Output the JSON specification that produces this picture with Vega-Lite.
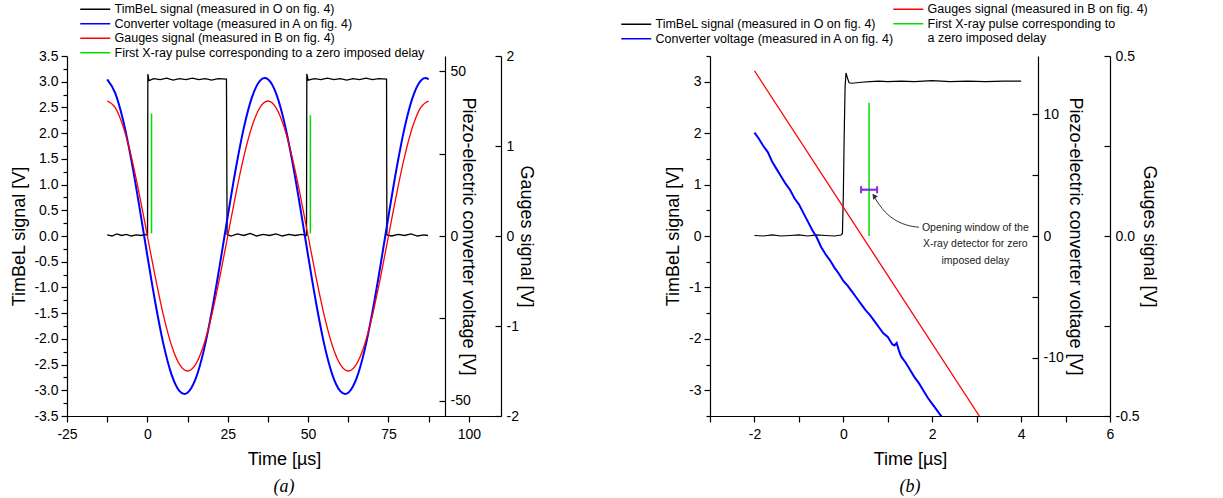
{
  "$schema": "https://vega.github.io/schema/vega-lite/v6.json",
  "padding": {"left": 10, "top": 3, "right": 10, "bottom": 0},
  "spacing": 95,
  "config": {
    "view": {"stroke": null},
    "font": "Liberation Sans",
    "locale": {"number": {"decimal": ".", "thousands": ",", "grouping": [3], "currency": ["", ""], "minus": "-"}},
    "axis": {"grid": false, "domainColor": "#000", "tickColor": "#000", "labelColor": "#000", "titleColor": "#000", "labelFont": "Liberation Sans", "titleFont": "Liberation Sans", "labelFontSize": 14, "titleFontSize": 18, "titleFontWeight": "normal", "tickSize": 6, "labelPadding": 3, "domainWidth": 1.2, "tickWidth": 1.2, "labelFlush": false, "labelOverlap": false, "labelBound": false},
    "legend": {"labelFont": "Liberation Sans", "labelColor": "#000", "labelFontSize": 12.5, "labelLimit": 0, "symbolType": "M-3,0H3", "symbolSize": 100, "symbolStrokeWidth": 1.5, "labelOffset": 13, "rowPadding": 1.5, "padding": 0, "titlePadding": 0}
  },
  "resolve": {"scale": {"color": "independent", "stroke": "independent"}, "legend": {"color": "independent", "stroke": "independent"}},
  "datasets": {
    "timbelA": [
      {"t": -12.5, "v": 0.02}, {"t": -11, "v": 0.0}, {"t": -9.5, "v": 0.04}, {"t": -8, "v": 0.01}, {"t": -6.5, "v": 0.03}, {"t": -5, "v": 0.0}, {"t": -3.5, "v": 0.02}, {"t": -2, "v": 0.01}, {"t": -0.5, "v": 0.03}, {"t": 0.05, "v": 0.01},
      {"t": 0.15, "v": 3.15}, {"t": 0.5, "v": 3.02}, {"t": 2, "v": 3.06}, {"t": 4, "v": 3.04}, {"t": 6, "v": 3.07}, {"t": 8, "v": 3.03}, {"t": 10, "v": 3.06}, {"t": 12, "v": 3.04}, {"t": 14, "v": 3.07}, {"t": 16, "v": 3.04}, {"t": 18, "v": 3.06}, {"t": 20, "v": 3.03}, {"t": 22, "v": 3.06}, {"t": 24.6, "v": 3.05},
      {"t": 24.8, "v": 0.03}, {"t": 26, "v": 0.0}, {"t": 28, "v": 0.04}, {"t": 30, "v": 0.01}, {"t": 32, "v": 0.05}, {"t": 34, "v": 0.0}, {"t": 36, "v": 0.03}, {"t": 38, "v": 0.01}, {"t": 40, "v": 0.04}, {"t": 42, "v": 0.0}, {"t": 44, "v": 0.03}, {"t": 46, "v": 0.01}, {"t": 48, "v": 0.03}, {"t": 49.5, "v": 0.01},
      {"t": 49.6, "v": 3.15}, {"t": 50, "v": 3.03}, {"t": 52, "v": 3.06}, {"t": 54, "v": 3.04}, {"t": 56, "v": 3.07}, {"t": 58, "v": 3.04}, {"t": 60, "v": 3.06}, {"t": 62, "v": 3.03}, {"t": 64, "v": 3.06}, {"t": 66, "v": 3.04}, {"t": 68, "v": 3.07}, {"t": 70, "v": 3.04}, {"t": 72, "v": 3.06}, {"t": 74.4, "v": 3.05},
      {"t": 74.5, "v": 0.02}, {"t": 76, "v": 0.0}, {"t": 78, "v": 0.03}, {"t": 80, "v": 0.01}, {"t": 82, "v": 0.04}, {"t": 84, "v": 0.0}, {"t": 86, "v": 0.02}, {"t": 87.3, "v": 0.01}
    ],
    "convA": [
      {"t": -12.5, "p": 47.62}, {"t": -10, "p": 43.43}, {"t": -7.5, "p": 34.99}, {"t": -5, "p": 23.13}, {"t": -2.5, "p": 9.0}, {"t": 0, "p": -6.01}, {"t": 2.5, "p": -20.44}, {"t": 5, "p": -32.86}, {"t": 7.5, "p": -42.06}, {"t": 10, "p": -47.15}, {"t": 11.5, "p": -48.0}, {"t": 12.5, "p": -47.62},
      {"t": 15, "p": -43.43}, {"t": 17.5, "p": -34.99}, {"t": 20, "p": -23.13}, {"t": 22.5, "p": -9.0}, {"t": 25, "p": 6.01}, {"t": 27.5, "p": 20.44}, {"t": 30, "p": 32.86}, {"t": 32.5, "p": 42.06}, {"t": 35, "p": 47.15}, {"t": 36.5, "p": 48.0}, {"t": 37.5, "p": 47.62},
      {"t": 40, "p": 43.43}, {"t": 42.5, "p": 34.99}, {"t": 45, "p": 23.13}, {"t": 47.5, "p": 9.0}, {"t": 50, "p": -6.01}, {"t": 52.5, "p": -20.44}, {"t": 55, "p": -32.86}, {"t": 57.5, "p": -42.06}, {"t": 60, "p": -47.15}, {"t": 61.5, "p": -48.0}, {"t": 62.5, "p": -47.62},
      {"t": 65, "p": -43.43}, {"t": 67.5, "p": -34.99}, {"t": 70, "p": -23.13}, {"t": 72.5, "p": -9.0}, {"t": 75, "p": 6.01}, {"t": 77.5, "p": 20.44}, {"t": 80, "p": 32.86}, {"t": 82.5, "p": 42.06}, {"t": 85, "p": 47.15}, {"t": 86.5, "p": 48.0}, {"t": 87.5, "p": 47.62}
    ],
    "gaugeA": [
      {"t": -12.5, "g": 1.5}, {"t": -10, "g": 1.4266}, {"t": -7.5, "g": 1.2135}, {"t": -5, "g": 0.8817}, {"t": -2.5, "g": 0.4635}, {"t": 0, "g": 0.0}, {"t": 2.5, "g": -0.4635}, {"t": 5, "g": -0.8817}, {"t": 7.5, "g": -1.2135}, {"t": 10, "g": -1.4266},
      {"t": 12.5, "g": -1.5}, {"t": 15, "g": -1.4266}, {"t": 17.5, "g": -1.2135}, {"t": 20, "g": -0.8817}, {"t": 22.5, "g": -0.4635}, {"t": 25, "g": 0.0}, {"t": 27.5, "g": 0.4635}, {"t": 30, "g": 0.8817}, {"t": 32.5, "g": 1.2135}, {"t": 35, "g": 1.4266},
      {"t": 37.5, "g": 1.5}, {"t": 40, "g": 1.4266}, {"t": 42.5, "g": 1.2135}, {"t": 45, "g": 0.8817}, {"t": 47.5, "g": 0.4635}, {"t": 50, "g": 0.0}, {"t": 52.5, "g": -0.4635}, {"t": 55, "g": -0.8817}, {"t": 57.5, "g": -1.2135}, {"t": 60, "g": -1.4266},
      {"t": 62.5, "g": -1.5}, {"t": 65, "g": -1.4266}, {"t": 67.5, "g": -1.2135}, {"t": 70, "g": -0.8817}, {"t": 72.5, "g": -0.4635}, {"t": 75, "g": 0.0}, {"t": 77.5, "g": 0.4635}, {"t": 80, "g": 0.8817}, {"t": 82.5, "g": 1.2135}, {"t": 85, "g": 1.4266}, {"t": 87.5, "g": 1.5}
    ],
    "xrayA": [
      {"t": 1.3, "y0": 0.05, "y1": 2.38},
      {"t": 50.7, "y0": 0.05, "y1": 2.35}
    ],
    "timbelB": [
      {"t": -2, "v": 0.01}, {"t": -1.8, "v": 0.0}, {"t": -1.6, "v": 0.02}, {"t": -1.4, "v": 0.0}, {"t": -1.2, "v": 0.01}, {"t": -1.0, "v": 0.02}, {"t": -0.8, "v": 0.0}, {"t": -0.6, "v": 0.02}, {"t": -0.4, "v": 0.01}, {"t": -0.2, "v": 0.0}, {"t": -0.05, "v": 0.02},
      {"t": -0.02, "v": 0.05}, {"t": 0.0, "v": 0.8}, {"t": 0.02, "v": 2.0}, {"t": 0.04, "v": 2.9}, {"t": 0.06, "v": 3.17}, {"t": 0.09, "v": 3.08}, {"t": 0.13, "v": 2.98}, {"t": 0.2, "v": 2.97}, {"t": 0.4, "v": 2.99}, {"t": 0.6, "v": 3.0},
      {"t": 0.8, "v": 3.01}, {"t": 1.0, "v": 3.0}, {"t": 1.3, "v": 3.01}, {"t": 1.6, "v": 3.0}, {"t": 2.0, "v": 3.02}, {"t": 2.4, "v": 3.0}, {"t": 2.8, "v": 3.01}, {"t": 3.2, "v": 3.0}, {"t": 3.6, "v": 3.01}, {"t": 4.0, "v": 3.01}
    ],
    "convB": [
      {"t": -2.0, "p": 8.5}, {"t": -1.9, "p": 8.0}, {"t": -1.8, "p": 7.4}, {"t": -1.7, "p": 6.9}, {"t": -1.6, "p": 6.1}, {"t": -1.5, "p": 5.5}, {"t": -1.4, "p": 4.9}, {"t": -1.3, "p": 4.3}, {"t": -1.2, "p": 3.8}, {"t": -1.1, "p": 3.1}, {"t": -1.0, "p": 2.6},
      {"t": -0.9, "p": 1.9}, {"t": -0.8, "p": 1.2}, {"t": -0.7, "p": 0.5}, {"t": -0.6, "p": -0.1}, {"t": -0.5, "p": -0.9}, {"t": -0.4, "p": -1.5}, {"t": -0.3, "p": -2.0}, {"t": -0.2, "p": -2.6}, {"t": -0.1, "p": -3.1}, {"t": 0.0, "p": -3.7},
      {"t": 0.1, "p": -4.1}, {"t": 0.2, "p": -4.6}, {"t": 0.3, "p": -5.1}, {"t": 0.4, "p": -5.6}, {"t": 0.5, "p": -6.1}, {"t": 0.6, "p": -6.5}, {"t": 0.7, "p": -7.0}, {"t": 0.8, "p": -7.5}, {"t": 0.9, "p": -8.0}, {"t": 1.0, "p": -8.3},
      {"t": 1.1, "p": -8.9}, {"t": 1.15, "p": -9.0}, {"t": 1.2, "p": -8.8}, {"t": 1.25, "p": -9.4}, {"t": 1.3, "p": -9.9}, {"t": 1.4, "p": -10.4}, {"t": 1.5, "p": -11.0}, {"t": 1.6, "p": -11.6}, {"t": 1.7, "p": -12.1}, {"t": 1.8, "p": -12.7}, {"t": 1.9, "p": -13.3}, {"t": 2.0, "p": -13.8}, {"t": 2.1, "p": -14.3}, {"t": 2.22, "p": -14.9}
    ],
    "gaugeB": [
      {"t": -2.0, "g": 0.459}, {"t": 3.06, "g": -0.5}
    ],
    "xrayB": [
      {"t": 0.58, "y0": 0.0, "y1": 2.59}
    ],
    "winB": [
      {"t0": 0.4, "t1": 0.76, "v": 0.9}
    ],
    "capsB": [
      {"t": 0.4, "y0": 0.83, "y1": 0.97},
      {"t": 0.76, "y0": 0.83, "y1": 0.97}
    ],
    "arrowB": [
      {"t": 0.71, "v": 0.74}, {"t": 0.8, "v": 0.62}, {"t": 0.95, "v": 0.46}, {"t": 1.15, "v": 0.32}, {"t": 1.4, "v": 0.22}, {"t": 1.7, "v": 0.17}
    ],
    "headB": [
      {"t": 0.69, "v": 0.78}
    ],
    "noteB": [
      {"t": 2.97, "v": 0.16, "note": "Opening window of the\nX-ray detector for zero\nimposed delay"}
    ]
  },
  "hconcat": [
    {
      "width": 434,
      "height": 360,
      "title": {"text": "(a)", "orient": "bottom", "font": "Liberation Serif", "fontStyle": "italic", "fontSize": 18, "fontWeight": "normal", "offset": 10, "color": "#000"},
      "resolve": {"scale": {"y": "independent"}},
      "layer": [
        {
          "layer": [
            {
              "data": {"name": "timbelA"},
              "mark": {"type": "line", "strokeWidth": 1.3, "clip": true},
              "encoding": {
                "x": {"field": "t", "type": "quantitative", "scale": {"domain": [-25, 110], "nice": false, "zero": false},
                      "axis": {"title": "Time [µs]", "values": [-25, -12.5, 0, 12.5, 25, 37.5, 50, 62.5, 75, 87.5, 100], "format": "d", "labelExpr": "datum.value % 25 == 0 ? datum.label : ''", "labelPadding": 5, "titlePadding": 9, "labelOverlap": false}},
                "y": {"field": "v", "type": "quantitative", "scale": {"domain": [-3.5, 3.5], "nice": false, "zero": false}, "axis": null},
                "color": {"datum": "TimBeL signal (measured in O on fig. 4)", "type": "nominal",
                          "scale": {"domain": ["TimBeL signal (measured in O on fig. 4)", "Converter voltage (measured in A on fig. 4)", "Gauges signal (measured in B on fig. 4)", "First X-ray pulse corresponding to a zero imposed delay"], "range": ["#000000", "#0000ff", "#ff0000", "#00e000"]},
                          "legend": {"orient": "none", "legendX": 22, "legendY": -53, "title": null}}
              }
            },
            {
              "data": {"name": "xrayA"},
              "mark": {"type": "rule", "strokeWidth": 1.5},
              "encoding": {
                "x": {"field": "t", "type": "quantitative"},
                "y": {"field": "y0", "type": "quantitative", "axis": null},
                "y2": {"field": "y1"},
                "color": {"datum": "First X-ray pulse corresponding to a zero imposed delay", "type": "nominal",
                          "scale": {"domain": ["TimBeL signal (measured in O on fig. 4)", "Converter voltage (measured in A on fig. 4)", "Gauges signal (measured in B on fig. 4)", "First X-ray pulse corresponding to a zero imposed delay"], "range": ["#000000", "#0000ff", "#ff0000", "#00e000"]}}
              }
            }
          ]
        },
        {
          "data": {"name": "xrayA"},
          "mark": {"type": "point", "opacity": 0},
          "encoding": {
            "x": {"field": "t", "type": "quantitative"},
            "y": {"field": "y0", "type": "quantitative", "scale": {"domain": [-3.5, 3.5], "nice": false, "zero": false},
                  "axis": {"title": "TimBeL signal [V]", "orient": "left", "offset": 0, "values": [-3.5, -3, -2.5, -2, -1.5, -1, -0.5, 0, 0.5, 1, 1.5, 2, 2.5, 3, 3.5], "format": ".1f", "titlePadding": 5, "labelOverlap": false, "labelSeparation": -14}}
          }
        },
        {
          "data": {"name": "xrayA"},
          "mark": {"type": "point", "opacity": 0},
          "encoding": {
            "x": {"field": "t", "type": "quantitative"},
            "y": {"field": "y1", "type": "quantitative", "scale": {"domain": [-3.5, 3.5], "nice": false, "zero": false},
                  "axis": {"title": null, "orient": "left", "offset": 0, "labels": false, "domain": false, "tickSize": 4, "values": [-3.25, -2.75, -2.25, -1.75, -1.25, -0.75, -0.25, 0.25, 0.75, 1.25, 1.75, 2.25, 2.75, 3.25]}}
          }
        },
        {
          "data": {"name": "convA"},
          "mark": {"type": "line", "strokeWidth": 2, "interpolate": "monotone", "clip": true},
          "encoding": {
            "x": {"field": "t", "type": "quantitative"},
            "y": {"field": "p", "type": "quantitative", "scale": {"domain": [-54.7, 54.7], "nice": false, "zero": false},
                  "axis": {"title": "Piezo-electric converter voltage [V]", "orient": "right", "offset": -56, "tickSize": -6, "labelPadding": 11, "values": [-50, -25, 0, 25, 50], "format": "d", "labelExpr": "datum.value % 50 == 0 ? datum.label : ''", "titlePadding": -12, "labelOverlap": false}},
            "color": {"datum": "Converter voltage (measured in A on fig. 4)", "type": "nominal",
                      "scale": {"domain": ["TimBeL signal (measured in O on fig. 4)", "Converter voltage (measured in A on fig. 4)", "Gauges signal (measured in B on fig. 4)", "First X-ray pulse corresponding to a zero imposed delay"], "range": ["#000000", "#0000ff", "#ff0000", "#00e000"]}}
          }
        },
        {
          "data": {"name": "gaugeA"},
          "mark": {"type": "line", "strokeWidth": 1.3, "interpolate": "monotone", "clip": true},
          "encoding": {
            "x": {"field": "t", "type": "quantitative"},
            "y": {"field": "g", "type": "quantitative", "scale": {"domain": [-2, 2], "nice": false, "zero": false},
                  "axis": {"title": "Gauges signal [V]", "orient": "right", "offset": 0, "tickSize": -6, "labelPadding": 11, "values": [-2, -1.5, -1, -0.5, 0, 0.5, 1, 1.5, 2], "format": "d", "labelExpr": "datum.value % 1 == 0 ? datum.label : ''", "titlePadding": -2, "labelOverlap": false}},
            "color": {"datum": "Gauges signal (measured in B on fig. 4)", "type": "nominal",
                      "scale": {"domain": ["TimBeL signal (measured in O on fig. 4)", "Converter voltage (measured in A on fig. 4)", "Gauges signal (measured in B on fig. 4)", "First X-ray pulse corresponding to a zero imposed delay"], "range": ["#000000", "#0000ff", "#ff0000", "#00e000"]}}
          }
        }
      ]
    },
    {
      "width": 400,
      "height": 360,
      "title": {"text": "(b)", "orient": "bottom", "font": "Liberation Serif", "fontStyle": "italic", "fontSize": 18, "fontWeight": "normal", "offset": 10, "color": "#000"},
      "resolve": {"scale": {"y": "independent"}},
      "layer": [
        {
          "layer": [
            {
              "data": {"name": "timbelB"},
              "mark": {"type": "line", "strokeWidth": 1.2, "clip": true},
              "encoding": {
                "x": {"field": "t", "type": "quantitative", "scale": {"domain": [-3, 6], "nice": false, "zero": false},
                      "axis": {"title": "Time [µs]", "values": [-3, -2, -1, 0, 1, 2, 3, 4, 5, 6], "format": "d", "labelExpr": "datum.value % 2 == 0 ? datum.label : ''", "labelPadding": 5, "titlePadding": 9, "labelOverlap": false}},
                "y": {"field": "v", "type": "quantitative", "scale": {"domain": [-3.5, 3.5], "nice": false, "zero": false},
                      "axis": {"title": "TimBeL signal [V]", "orient": "left", "values": [-3, -2, -1, 0, 1, 2, 3], "format": "d", "titlePadding": 6, "labelOverlap": false}},
                "color": {"datum": "TimBeL signal (measured in O on fig. 4)", "type": "nominal",
                          "scale": {"domain": ["TimBeL signal (measured in O on fig. 4)", "Converter voltage (measured in A on fig. 4)"], "range": ["#000000", "#0000ff"]},
                          "legend": {"orient": "none", "legendX": -80, "legendY": -38, "title": null}}
              }
            },
            {
              "data": {"name": "xrayB"},
              "mark": {"type": "rule", "strokeWidth": 1.5},
              "encoding": {
                "x": {"field": "t", "type": "quantitative"},
                "y": {"field": "y0", "type": "quantitative"},
                "y2": {"field": "y1"},
                "stroke": {"datum": "First X-ray pulse corresponding to", "type": "nominal",
                           "scale": {"domain": ["Gauges signal (measured in B on fig. 4)", "First X-ray pulse corresponding to", "a zero imposed delay"], "range": ["#ff0000", "#00e000", "transparent"]},
                           "legend": {"orient": "none", "legendX": 192, "legendY": -53, "title": null}}
              }
            },
            {
              "data": {"name": "winB"},
              "mark": {"type": "rule", "strokeWidth": 2.2, "color": "#8a2be2"},
              "encoding": {
                "x": {"field": "t0", "type": "quantitative"},
                "x2": {"field": "t1"},
                "y": {"field": "v", "type": "quantitative"}
              }
            },
            {
              "data": {"name": "capsB"},
              "mark": {"type": "rule", "strokeWidth": 2, "color": "#8a2be2"},
              "encoding": {
                "x": {"field": "t", "type": "quantitative"},
                "y": {"field": "y0", "type": "quantitative"},
                "y2": {"field": "y1"}
              }
            },
            {
              "data": {"name": "arrowB"},
              "mark": {"type": "line", "strokeWidth": 1, "color": "#333333", "interpolate": "monotone"},
              "encoding": {
                "x": {"field": "t", "type": "quantitative"},
                "y": {"field": "v", "type": "quantitative"}
              }
            },
            {
              "data": {"name": "headB"},
              "mark": {"type": "point", "shape": "triangle-up", "angle": -37, "size": 35, "filled": true, "color": "#333333", "opacity": 1},
              "encoding": {
                "x": {"field": "t", "type": "quantitative"},
                "y": {"field": "v", "type": "quantitative"}
              }
            },
            {
              "data": {"name": "noteB"},
              "mark": {"type": "text", "lineBreak": "\n", "align": "center", "baseline": "middle", "fontSize": 10.5, "lineHeight": 16.5, "color": "#222222", "font": "Liberation Sans"},
              "encoding": {
                "x": {"field": "t", "type": "quantitative"},
                "y": {"field": "v", "type": "quantitative"},
                "text": {"field": "note"}
              }
            }
          ]
        },
        {
          "data": {"name": "xrayB"},
          "mark": {"type": "point", "opacity": 0},
          "encoding": {
            "x": {"field": "t", "type": "quantitative"},
            "y": {"field": "y0", "type": "quantitative", "scale": {"domain": [-3.5, 3.5], "nice": false, "zero": false},
                  "axis": {"title": null, "orient": "left", "offset": 0, "labels": false, "domain": false, "tickSize": 4, "values": [-3.5, -2.5, -1.5, -0.5, 0.5, 1.5, 2.5, 3.5]}}
          }
        },
        {
          "data": {"name": "convB"},
          "mark": {"type": "line", "strokeWidth": 2, "clip": true},
          "encoding": {
            "x": {"field": "t", "type": "quantitative"},
            "y": {"field": "p", "type": "quantitative", "scale": {"domain": [-14.8, 14.8], "nice": false, "zero": false},
                  "axis": {"title": "Piezo-electric converter voltage [V]", "orient": "right", "offset": -72, "tickSize": -6, "labelPadding": 11, "values": [-10, -5, 0, 5, 10], "format": "d", "labelExpr": "datum.value % 10 == 0 ? datum.label : ''", "titlePadding": 2, "labelOverlap": false}},
            "color": {"datum": "Converter voltage (measured in A on fig. 4)", "type": "nominal",
                      "scale": {"domain": ["TimBeL signal (measured in O on fig. 4)", "Converter voltage (measured in A on fig. 4)"], "range": ["#000000", "#0000ff"]}}
          }
        },
        {
          "data": {"name": "gaugeB"},
          "mark": {"type": "line", "strokeWidth": 1.3, "clip": true},
          "encoding": {
            "x": {"field": "t", "type": "quantitative"},
            "y": {"field": "g", "type": "quantitative", "scale": {"domain": [-0.5, 0.5], "nice": false, "zero": false},
                  "axis": {"title": "Gauges signal [V]", "orient": "right", "offset": 0, "tickSize": -6, "labelPadding": 11, "values": [-0.5, -0.25, 0, 0.25, 0.5], "format": ".1f", "labelExpr": "datum.value % 0.5 == 0 ? datum.label : ''", "titlePadding": 0, "labelOverlap": false}},
            "stroke": {"datum": "Gauges signal (measured in B on fig. 4)", "type": "nominal",
                       "scale": {"domain": ["Gauges signal (measured in B on fig. 4)", "First X-ray pulse corresponding to", "a zero imposed delay"], "range": ["#ff0000", "#00e000", "transparent"]}}
          }
        }
      ]
    }
  ]
}
